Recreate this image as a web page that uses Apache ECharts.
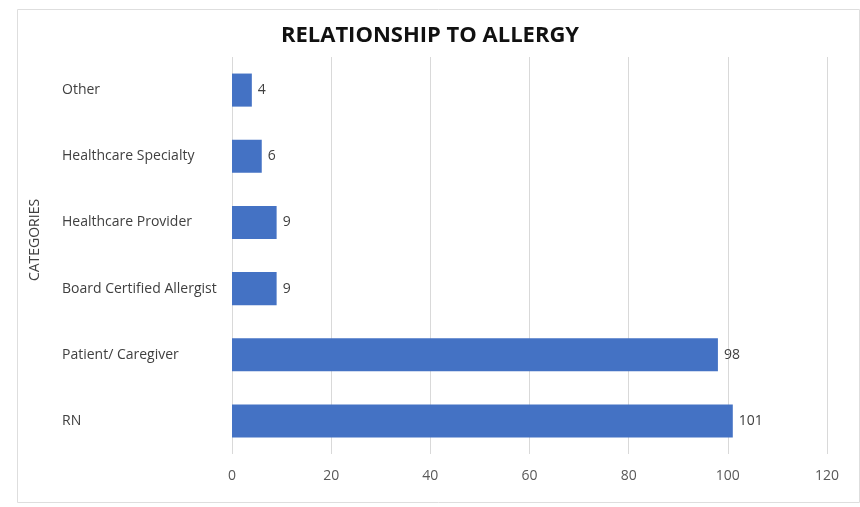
<!DOCTYPE html>
<html>
<head>
    <meta charset="utf-8">
    <title>Relationship to Allergy</title>
    <script src="https://cdn.jsdelivr.net/npm/echarts@6.0.0/dist/echarts.min.js"></script>
    <style>
        html, body { margin: 0; padding: 0; background: #fff; }
    </style>
</head>
<body>
    <div id="chart" style="width: 860px; height: 507px;"></div>

    <script>
        // categories, bottom to top (as drawn on the y axis)
        var categories = ['RN', 'Patient/ Caregiver', 'Board Certified Allergist', 'Healthcare Provider', 'Healthcare Specialty', 'Other'];
        var counts = [101, 98, 9, 9, 6, 4];
        var xTicks = [0, 20, 40, 60, 80, 100, 120];

        var chart = echarts.init(document.getElementById('chart'));

        var option = {
            backgroundColor: '#fff',
            textStyle: { fontFamily: 'Open Sans, sans-serif' },
            title: {
                text: 'RELATIONSHIP TO ALLERGY',
                left: 'center',
                top: 20,
                textStyle: { fontSize: 22, fontWeight: 'bold', color: '#111', fontFamily: 'Open Sans, sans-serif' }
            },
            graphic: [{
                // light frame around the chart area
                type: 'rect',
                left: 15, top: 7,
                shape: { width: 842, height: 493 },
                style: { fill: 'none', stroke: '#dedede', lineWidth: 1 },
                silent: true
            }, {
                // axis title sits a bit above the plot's middle, like the original
                type: 'text',
                x: 35, y: 240,
                rotation: Math.PI / 2,
                style: {
                    text: 'CATEGORIES',
                    fill: '#404040',
                    font: '14px Open Sans, sans-serif',
                    align: 'center',
                    verticalAlign: 'middle'
                },
                silent: true
            }],
            grid: { left: 232, right: 33, top: 57, bottom: 53 },
            xAxis: {
                type: 'value',
                min: xTicks[0],
                max: xTicks[xTicks.length - 1],
                interval: 20,
                axisLine: { show: false },
                axisTick: { show: false },
                splitLine: { lineStyle: { color: '#d9d9d9', width: 1 } },
                axisLabel: { color: '#595959', fontSize: 14, margin: 15 }
            },
            yAxis: {
                type: 'category',
                data: categories,
                axisLine: { show: false },
                axisTick: { show: false },
                axisLabel: { color: '#404040', fontSize: 14, align: 'left', margin: 170 }
            },
            series: [{
                type: 'bar',
                data: counts,
                barCategoryGap: '50%',
                itemStyle: { color: '#4472C4' },
                label: {
                    show: true,
                    position: 'right',
                    distance: 6,
                    color: '#404040',
                    fontSize: 14
                }
            }]
        };

        chart.setOption(option);
    </script>
</body>
</html>
